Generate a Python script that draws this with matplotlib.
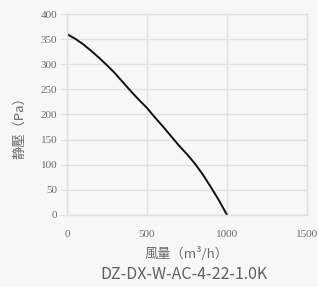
import numpy as np
import matplotlib
matplotlib.use("Agg")
import matplotlib.pyplot as plt

# fan curve
airflow = [0, 50, 100, 150, 200, 250, 300, 350, 400, 450, 500, 550, 600,
           650, 700, 750, 800, 850, 900, 950, 1000]
pressure = [360, 351, 340, 327, 313, 298, 282, 264, 246, 229, 213, 194, 176,
            157, 138, 121, 102, 80, 55, 29, 0]
xticks = [0, 500, 1000, 1500]
yticks = [0, 50, 100, 150, 200, 250, 300, 350, 400]
model = "DZ-DX-W-AC-4-22-1.0K"

bg = "#f7f7f7"
grid_c = "#e0e0e0"
txt_c = "#6a6a6a"
cjk = ["Noto Sans CJK SC", "DejaVu Sans"]

fig = plt.figure(figsize=(3.18, 2.87), dpi=100, facecolor=bg)
ax = fig.add_axes([0.2107, 0.2509, 0.7547, 0.7003], facecolor=bg)

ax.plot(airflow, pressure, color="#111111", lw=1.4, solid_capstyle="round")

ax.set_xlim(0, 1500)
ax.set_ylim(0, 400)
ax.set_xticks(xticks)
ax.set_yticks(yticks)
ax.grid(color=grid_c, lw=1.0)
ax.set_axisbelow(True)
for s in ax.spines.values():
    s.set_color(grid_c)
    s.set_linewidth(1.0)

ax.tick_params(axis="y", length=5, color=grid_c, pad=2)
ax.tick_params(axis="x", length=0, pad=11)
for lab in ax.get_xticklabels() + ax.get_yticklabels():
    lab.set_fontfamily("Liberation Serif")
    lab.set_fontsize(8)
    lab.set_color(txt_c)

ax.set_xlabel("風量（m³/h）", family=cjk, fontsize=9.5, color=txt_c)
ax.xaxis.set_label_coords(0.5, -0.16)
ax.set_ylabel("静壓（Pa）", family=cjk, fontsize=9.5, color=txt_c)
ax.yaxis.set_label_coords(-0.17, 0.45)

fig.text(0.579, 0.042, model, ha="center", va="center",
         fontsize=11.5, color="#606060", family="Noto Sans CJK SC")

fig.savefig("out.png", dpi=100, facecolor=bg)
